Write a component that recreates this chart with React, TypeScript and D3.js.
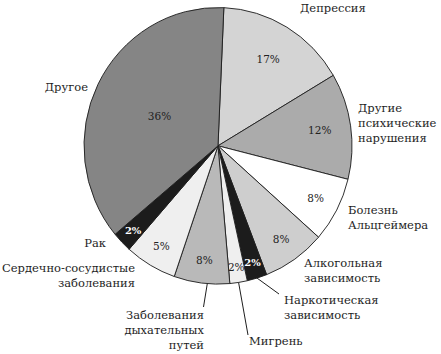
import { FC, useEffect, useRef } from 'react';
import * as d3 from 'd3';

// slices clockwise, starting just right of 12 o'clock
const causes = [
  'Депрессия',
  'Другие психические нарушения',
  'Болезнь Альцгеймера',
  'Алкогольная зависимость',
  'Наркотическая зависимость',
  'Мигрень',
  'Заболевания дыхательных путей',
  'Сердечно-сосудистые заболевания',
  'Рак',
  'Другое',
];
// share of the circle as drawn in the picture
const shares = [15.8, 12.4, 7.6, 7.6, 2.4, 2.1, 6.7, 6.25, 2.4, 36.75];
// printed percentages
const percentLabels = ['17%', '12%', '8%', '8%', '2%', '2%', '8%', '5%', '2%', '36%'];

const fills = ['#d4d4d4', '#ababab', '#ffffff', '#cecece', '#1c1c1c', '#efefef', '#b9b9b9', '#efefef', '#1c1c1c', '#858585'];

// outer label layout (annotation only)
const labelLayout = [
  { x: 300, y: 12, anchor: 'start', lines: ['Депрессия'] },
  { x: 358, y: 112, anchor: 'start', lines: ['Другие', 'психические', 'нарушения'] },
  { x: 348, y: 214, anchor: 'start', lines: ['Болезнь', 'Альцгеймера'] },
  { x: 304, y: 267, anchor: 'start', lines: ['Алкогольная', 'зависимость'] },
  { x: 284, y: 304, anchor: 'start', lines: ['Наркотическая', 'зависимость'], leader: [279, 294], at: 0.5 },
  { x: 249, y: 345, anchor: 'start', lines: ['Мигрень'], leader: [248, 335], at: 0.5 },
  { x: 204, y: 319, anchor: 'end', lines: ['Заболевания', 'дыхательных', 'путей'], leader: [203.5, 307], at: 0.4 },
  { x: 135, y: 272, anchor: 'end', lines: ['Сердечно-сосудистые', 'заболевания'] },
  { x: 106, y: 247, anchor: 'end', lines: ['Рак'] },
  { x: 88, y: 91, anchor: 'end', lines: ['Другое'] },
];

const width = 441;
const height = 354;

const App: FC = () => {
  const ref = useRef<SVGSVGElement>(null);

  useEffect(() => {
    drawChart();
  }, []);

  const drawChart = () => {
    const svg = d3.select(ref.current);
    svg.selectAll('*').remove();

    const cx = 218;
    const cy = 145.8;
    const r = 134;
    const sy = 1.032; // picture is slightly taller than wide
    const font = "'DejaVu Serif', serif";

    const data = causes.map((c, i) => ({ cause: c, share: shares[i], label: percentLabels[i], fill: fills[i] }));

    const pie = d3
      .pie<any>()
      .sort(null)
      .value((d) => d.share)
      .startAngle((2.5 * Math.PI) / 180)
      .endAngle((362.5 * Math.PI) / 180);
    const arcs = pie(data);

    const arc = d3.arc<any>().innerRadius(0).outerRadius(r);

    const pieG = svg.append('g').attr('transform', `translate(${cx},${cy}) scale(1,${sy})`);

    pieG
      .selectAll('path')
      .data(arcs)
      .join('path')
      .attr('d', arc)
      .attr('fill', (d) => d.data.fill)
      .attr('stroke', '#1e1e1e')
      .attr('stroke-width', 0.9)
      .attr('stroke-linejoin', 'round');

    const toXY = (angle: number, rad: number) => [cx + rad * Math.sin(angle), cy - rad * Math.cos(angle) * sy];

    // percentages inside slices, pushed outward for the thin ones
    arcs.forEach((a) => {
      const frac = a.data.share / 100;
      const rr = r * Math.min(0.93, 0.91 - 1.15 * frac);
      const mid = (a.startAngle + a.endAngle) / 2;
      const [x, y] = toXY(mid, rr);
      const dark = a.data.fill === '#1c1c1c';
      svg
        .append('text')
        .attr('x', x)
        .attr('y', y)
        .attr('dy', '0.35em')
        .attr('text-anchor', 'middle')
        .attr('font-family', font)
        .attr('font-size', dark ? 10 : 10.5)
        .attr('font-weight', dark ? 'bold' : 'normal')
        .attr('fill', dark ? '#ffffff' : '#222222')
        .text(a.data.label);
    });

    // leader lines
    arcs.forEach((a, i) => {
      const lay: any = labelLayout[i];
      if (!lay.leader) return;
      const ang = a.startAngle + (a.endAngle - a.startAngle) * lay.at;
      const [x1, y1] = toXY(ang, r);
      svg
        .append('line')
        .attr('x1', x1)
        .attr('y1', y1)
        .attr('x2', lay.leader[0])
        .attr('y2', lay.leader[1])
        .attr('stroke', '#1e1e1e')
        .attr('stroke-width', 1);
    });

    // outer labels
    labelLayout.forEach((lay) => {
      const t = svg
        .append('text')
        .attr('font-family', font)
        .attr('font-size', 11.5)
        .attr('fill', '#1e1e1e')
        .attr('text-anchor', lay.anchor);
      lay.lines.forEach((ln, k) => {
        t.append('tspan').attr('x', lay.x).attr('y', lay.y + k * 15).text(ln);
      });
    });
  };

  return (
    <svg
      ref={ref}
      width={width}
      height={height}
      style={{ position: 'absolute', left: 0, top: 0, background: '#ffffff' }}
    />
  );
};

export default App;
